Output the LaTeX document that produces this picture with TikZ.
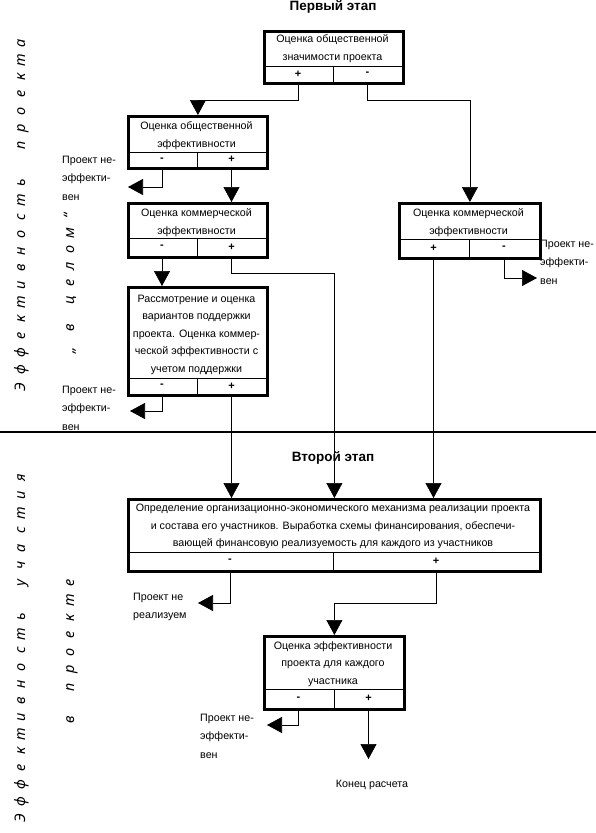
\documentclass[tikz,border=0pt]{standalone}
\usepackage{fontspec}
\setmainfont{Liberation Sans}
\newfontfamily\vfont{Noto Sans}
\usetikzlibrary{arrows.meta}
\tikzset{
  boxline/.style={draw, line width=2.8pt, inner sep=0pt, anchor=north west},
  innerline/.style={line width=0.9pt},
  conn/.style={line width=0.7pt},
  arr/.style={conn,-{Triangle[length=15pt,width=16pt]}},
  txt/.style={font=\fontsize{10.7}{17.5}\selectfont, align=center, inner sep=0pt},
  sign/.style={font=\bfseries\fontsize{11}{12}\selectfont, inner sep=0pt},
  lbl/.style={font=\fontsize{10.7}{18.5}\selectfont, align=left, inner sep=0pt, anchor=north west},
  ttl/.style={font=\bfseries\fontsize{13.5}{15}\selectfont, inner sep=0pt},
  vl/.style={font=\vfont\bfseries\itshape\fontsize{14.5}{16}\selectfont, rotate=90, anchor=mid, inner sep=0pt},
}
% #1 name, #2 L, #3 R, #4 T, #5 S, #6 B, #7 D, #8 left sign, #9 right sign
\newcommand\mkbox[9]{%
  \node[boxline, minimum width={#3-#2}, minimum height={#6-#4}] (#1) at (#2,#4) {};
  \draw[innerline] (#2,#5) -- (#3,#5) (#7,#5) -- (#7,#6);
  \node[sign] (#1l) at ({(#2+#7)/2},{(#5+#6)/2}) {#8};
  \node[sign] (#1r) at ({(#7+#3)/2},{(#5+#6)/2}) {#9};
  \coordinate (#1lb) at ({(#2+#7)/2},#6);
  \coordinate (#1rb) at ({(#7+#3)/2},#6);
}
\begin{document}
\begin{tikzpicture}[x=1pt,y=-1pt]
\useasboundingbox (0,0) rectangle (596,833);

% titles
\node[ttl] (t1) at (333,7) {Первый этап};
\node[ttl] (t2) at (333,458) {Второй этап};

% separator
\coordinate (sepL) at (0,432);
\coordinate (sepR) at (596,432);
\draw[line width=1.6pt] (sepL) -- (sepR);

% boxes
\mkbox{b1}{263}{402}{30}{66}{82}{333}{+}{-}
\node[txt] (b1t) at (332.5,48.5) {Оценка общественной\\значимости проекта};

\mkbox{b2}{127}{266}{115}{152}{167}{197}{-}{+}
\node[txt] (b2t) at (196.5,135.5) {Оценка общественной\\эффективности};

\mkbox{b3}{127}{266}{202}{238}{256}{197}{-}{+}
\node[txt] (b3t) at (196.5,222.5) {Оценка коммерческой\\эффективности};

\mkbox{b4}{127}{266}{286}{378}{394}{197}{-}{+}
\node[txt] (b4t) at (196.5,334.5) {Рассмотрение и оценка\\вариантов поддержки\\проекта. Оценка коммер-\\ческой эффективности с\\учетом поддержки};

\mkbox{b3r}{398}{539}{202}{239}{257}{469}{+}{-}
\node[txt] (b3rt) at (468.5,222.5) {Оценка коммерческой\\эффективности};

\mkbox{b5}{127}{539}{498}{552}{570}{333}{-}{+}
\node[txt] (b5t) at (333,526.5) {Определение организационно-экономического механизма реализации проекта\\и состава его участников. Выработка схемы финансирования, обеспечи-\\вающей финансовую реализуемость для каждого из участников};

\mkbox{b6}{263}{403}{635}{689}{708}{334}{-}{+}
\node[txt] (b6t) at (333,664) {Оценка эффективности\\проекта для каждого\\участника};

% free ends
\coordinate (e2) at (128,187);
\coordinate (e4) at (130,411);
\coordinate (e3r) at (537,278);
\coordinate (e5) at (198,603);
\coordinate (e6) at (267,725);
\coordinate (e6b) at (368.5,759);

% connectors
\draw[arr] (b1lb) -- ++(0,18) -| (b2.north);
\draw[arr] (b1rb) -- ++(0,18) -| (b3r.north);
\draw[arr] (b2lb) |- (e2);
\draw[arr] (b2rb) -- (b2rb |- b3.north);
\draw[arr] (b3lb) -- (b3lb |- b4.north);
\draw[arr] (b3rb) -- ++(0,17) -| (b5.north);
\draw[arr] (b4lb) |- (e4);
\draw[arr] (b4rb) -- (b4rb |- b5.north);
\draw[arr] (b3rlb) -- (b3rlb |- b5.north);
\draw[arr] (b3rrb) |- (e3r);
\draw[arr] (b5lb) |- (e5);
\draw[arr] (b5rb) -- ++(0,33) -| (b6.north);
\draw[arr] (b6lb) |- (e6);
\draw[arr] (b6rb) -- (e6b);

% labels
\node[lbl] (l2) at (62,155.5) {Проект не-\\эффекти-\\вен};
\node[lbl] (l4) at (62,385.5) {Проект не-\\эффекти-\\вен};
\node[lbl] (l3r) at (540,239.5) {Проект не-\\эффекти-\\вен};
\node[lbl] (l5) at (133,592.5) {Проект не\\реализуем};
\node[lbl] (l6) at (200,713.5) {Проект не-\\эффекти-\\вен};
\node[txt] (end) at (372,785) {Конец расчета};

% vertical texts
\foreach \c [count=\i from 0] in {Э,ф,ф,е,к,т,и,в,н,о,с,т,ь}
  \node[vl] (va\i) at (23,{387-\i*17}) {\c};
\foreach \c [count=\i from 0] in {п,р,о,е,к,т,а}
  \node[vl] (vb\i) at (23,{145-\i*17}) {\c};
\foreach \c [count=\i from 0] in {„,в}
  \node[vl] (vc\i) at (72,{350-\i*22}) {\c};
\foreach \c [count=\i from 0] in {ц,е,л,о,м,“}
  \node[vl] (vd\i) at (72,{300-\i*16.8}) {\c};
\foreach \c [count=\i from 0] in {Э,ф,ф,е,к,т,и,в,н,о,с,т,ь}
  \node[vl] (ve\i) at (23,{818-\i*16.75}) {\c};
\foreach \c [count=\i from 0] in {у,ч,а,с,т,и,я}
  \node[vl] (vf\i) at (23,{583-\i*17.5}) {\c};
\node[vl] (vg0) at (72,720) {в};
\foreach \c [count=\i from 0] in {п,р,о,е,к,т,е}
  \node[vl] (vh\i) at (72,{687-\i*17.3}) {\c};
\end{tikzpicture}
\end{document}
